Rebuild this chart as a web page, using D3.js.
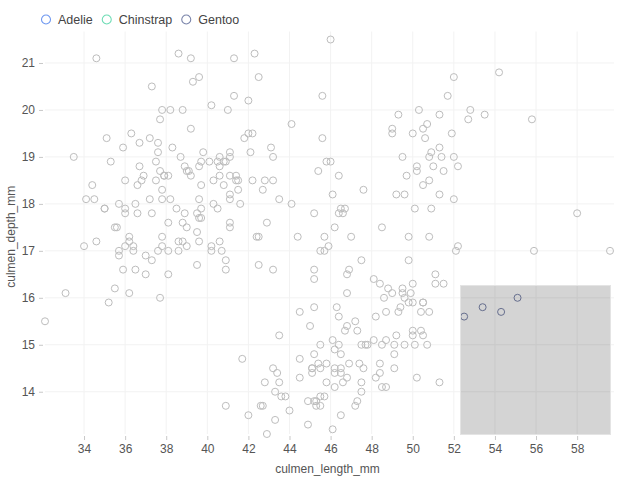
<!DOCTYPE html>
<html><head><meta charset="utf-8">
<script src="https://cdn.jsdelivr.net/npm/d3@7"></script>
<style>
body{margin:0;background:#fff;}
svg{font-family:"Liberation Sans",Helvetica,Arial,sans-serif;}
</style></head>
<body><svg id="c" width="640" height="480"></svg>
<script>
// [culmen_length_mm, culmen_depth_mm]
const adelie = [
[39.1,18.7],[39.5,17.4],[40.3,18.0],[36.7,19.3],[39.3,20.6],[38.9,17.8],[39.2,19.6],[34.1,18.1],[42.0,20.2],[37.8,17.1],
[37.8,17.3],[41.1,17.6],[38.6,21.2],[34.6,21.1],[36.6,17.8],[38.7,19.0],[42.5,20.7],[34.4,18.4],[46.0,21.5],[37.8,18.3],
[37.7,18.7],[35.9,19.2],[38.2,18.1],[38.8,17.2],[35.3,18.9],[40.6,18.6],[40.5,17.9],[37.9,18.6],[40.5,18.9],[39.5,16.7],
[37.2,18.1],[39.5,17.8],[40.9,18.9],[36.4,17.0],[39.2,21.1],[38.8,20.0],[42.2,18.5],[37.6,19.3],[39.8,19.1],[36.5,18.0],
[40.8,18.4],[36.0,18.5],[44.1,19.7],[37.0,16.9],[39.6,18.8],[41.1,19.0],[37.5,18.9],[36.0,17.9],[42.3,21.2],[39.6,17.7],
[40.1,18.9],[35.0,17.9],[42.0,19.5],[34.5,18.1],[41.4,18.6],[39.0,17.5],[40.6,18.8],[36.5,16.6],[37.6,19.1],[35.7,16.9],
[41.3,21.1],[37.6,17.0],[41.1,18.2],[36.4,17.1],[41.6,18.0],[35.5,16.2],[41.1,19.1],[35.9,16.6],[41.8,19.4],[33.5,19.0],
[39.7,18.4],[39.6,17.2],[45.8,18.9],[35.5,17.5],[42.8,18.5],[40.9,16.8],[37.2,19.4],[36.2,16.1],[42.1,19.1],[34.6,17.2],
[42.9,17.6],[36.7,18.8],[35.1,19.4],[37.3,17.8],[41.3,20.3],[36.3,19.5],[36.9,18.6],[38.3,19.2],[38.9,18.8],[35.7,18.0],
[41.1,18.1],[34.0,17.1],[39.6,18.1],[36.2,17.3],[40.8,18.9],[38.1,18.6],[40.3,18.5],[33.1,16.1],[43.2,18.5],[35.0,17.9],
[41.0,20.0],[37.7,16.0],[37.8,20.0],[37.9,18.6],[39.7,18.9],[38.6,17.2],[38.2,20.0],[38.1,17.0],[43.2,19.0],[38.1,16.5],
[45.6,20.3],[39.7,17.7],[42.2,19.5],[39.6,20.7],[42.7,18.3],[38.6,17.0],[37.3,20.5],[35.7,17.0],[41.1,18.6],[36.2,17.2],
[37.7,19.8],[40.2,17.0],[41.4,18.5],[35.2,15.9],[40.6,19.0],[38.8,17.6],[41.5,18.3],[39.0,17.1],[44.1,18.0],[38.5,17.9],
[43.1,19.2],[36.8,18.5],[37.5,18.5],[38.1,17.6],[41.1,17.5],[35.6,17.5],[40.2,20.1],[37.0,16.5],[39.7,17.9],[40.2,17.1],
[40.6,17.2],[32.1,15.5],[40.7,17.0],[37.3,16.8],[39.0,18.7],[39.2,18.6],[36.6,18.4],[36.0,17.8],[37.8,18.1],[36.0,17.1],
[41.5,18.5]
];
const chinstrap = [
[46.5,17.9],[50.0,19.5],[51.3,19.2],[45.4,18.7],[52.7,19.8],[45.2,17.8],[46.1,18.2],[51.3,18.2],[46.0,18.9],[51.3,19.9],
[46.6,17.8],[51.7,20.3],[47.0,17.3],[52.0,18.1],[45.9,17.1],[50.5,19.6],[50.3,20.0],[58.0,17.8],[46.4,18.6],[49.2,18.2],
[42.4,17.3],[48.5,17.5],[43.2,16.6],[50.6,19.4],[46.7,17.9],[52.0,19.0],[50.5,18.4],[49.5,19.0],[46.4,17.8],[52.8,20.0],
[40.9,16.6],[54.2,20.8],[42.5,16.7],[51.0,18.8],[49.7,18.6],[47.5,16.8],[47.6,18.3],[52.0,20.7],[46.9,16.6],[53.5,19.9],
[49.0,19.5],[46.2,17.5],[50.9,19.1],[45.5,17.0],[50.9,17.9],[50.8,18.5],[50.1,17.9],[49.0,19.6],[51.5,18.7],[49.8,17.3],
[48.1,16.4],[51.4,19.0],[45.7,17.3],[50.7,19.7],[42.5,17.3],[52.2,18.8],[45.2,16.6],[49.3,19.9],[50.2,18.8],[45.6,19.4],
[51.9,19.5],[46.8,16.5],[45.7,17.0],[55.8,19.8],[43.5,18.1],[49.6,18.2],[50.8,19.0],[50.2,18.7]
];
const gentoo = [
[46.1,13.2],[50.0,16.3],[48.7,14.1],[50.0,15.2],[47.6,14.5],[46.5,13.5],[45.4,14.6],[46.7,15.3],[43.3,13.4],[46.8,15.4],
[40.9,13.7],[49.0,16.1],[45.5,13.7],[48.4,14.6],[45.8,14.6],[49.3,15.7],[42.0,13.5],[49.2,15.2],[46.2,14.5],[48.7,15.1],
[50.2,14.3],[45.1,14.5],[46.5,14.5],[46.3,15.8],[42.9,13.1],[46.1,15.1],[44.5,14.3],[47.8,15.0],[48.2,14.3],[50.0,15.3],
[47.3,15.3],[42.8,14.2],[45.1,14.5],[59.6,17.0],[49.1,14.8],[48.4,16.3],[42.6,13.7],[44.4,17.3],[44.0,13.6],[48.7,15.7],
[42.7,13.7],[49.6,16.0],[45.3,13.7],[49.6,15.0],[50.5,15.9],[43.6,13.9],[45.5,13.9],[50.5,15.9],[44.9,13.3],[45.2,15.8],
[46.6,14.2],[48.5,14.1],[45.1,14.4],[50.1,15.0],[46.5,14.4],[45.0,15.4],[43.8,13.9],[45.5,15.0],[43.2,14.5],[50.4,15.3],
[45.3,13.8],[46.2,14.9],[45.7,13.9],[54.3,15.7],[45.8,14.2],[49.8,16.8],[46.2,14.4],[49.5,16.2],[43.5,14.2],[50.7,15.0],
[47.7,15.0],[46.4,15.6],[48.2,15.6],[46.5,14.8],[46.4,15.0],[48.6,16.0],[47.5,14.2],[51.1,16.3],[45.2,13.8],[45.2,16.4],
[49.1,14.5],[52.5,15.6],[47.4,14.6],[50.0,15.9],[44.9,13.8],[50.8,17.3],[43.4,14.4],[51.3,14.2],[47.5,14.0],[52.1,17.0],
[47.5,15.0],[52.2,17.1],[45.5,14.5],[49.5,16.1],[44.5,14.7],[50.8,15.7],[49.4,15.8],[46.9,14.6],[48.4,14.4],[51.1,16.5],
[48.5,15.0],[55.9,17.0],[47.2,15.5],[49.1,15.0],[47.3,13.8],[46.8,16.1],[41.7,14.7],[53.4,15.8],[43.3,14.0],[48.1,15.1],
[50.5,15.2],[49.8,15.9],[43.5,15.2],[51.5,16.3],[46.2,14.1],[55.1,16.0],[44.5,15.7],[48.8,16.2],[47.2,13.7],[46.8,14.3],
[50.4,15.7],[45.2,14.8],[49.9,16.1]
];
const species = ["Adelie","Chinstrap","Gentoo"];
const speciesColors = ["#6f98f0","#6edcb5","#7a84aa"];
const xTicks = [34,36,38,40,42,44,46,48,50,52,54,56,58];
const yTicks = [14,15,16,17,18,19,20,21];
const brushX = [52.3, 59.6];
const brushY = [13.1, 16.27];

const svg = d3.select("#c");
const L = 45, R = 610, T = 39.5, B = 434;
const all = [];
species.forEach((s,i)=>{
  const arr = [adelie,chinstrap,gentoo][i];
  arr.forEach(d=>all.push({s, x:d[0], y:d[1]}));
});
const x = d3.scaleLinear().domain(d3.extent(all,d=>d.x)).range([L,R]);
const y = d3.scaleLinear().domain(d3.extent(all,d=>d.y)).range([B,T]);
const color = d3.scaleOrdinal().domain(species).range(speciesColors);

// grid
svg.append("g").selectAll("line").data(xTicks).join("line")
  .attr("x1",d=>x(d)).attr("x2",d=>x(d)).attr("y1",T-8).attr("y2",B)
  .attr("stroke","#f2f2f2");
svg.append("g").selectAll("line").data(yTicks).join("line")
  .attr("x1",L).attr("x2",R+4).attr("y1",d=>y(d)).attr("y2",d=>y(d))
  .attr("stroke","#f2f2f2");

// axes
const xa = svg.append("g").attr("transform",`translate(0,${B+2})`)
  .call(d3.axisBottom(x).tickValues(xTicks).tickSize(4).tickPadding(4).tickFormat(d3.format("d")));
const ya = svg.append("g").attr("transform",`translate(${L-2},0)`)
  .call(d3.axisLeft(y).tickValues(yTicks).tickSize(4).tickPadding(4).tickFormat(d3.format("d")));
[xa,ya].forEach(a=>{
  a.select(".domain").remove();
  a.selectAll(".tick line").attr("stroke","#c8c8c8");
  a.selectAll(".tick text").attr("fill","#555").attr("font-size",12)
   .attr("font-family","'Liberation Sans',Helvetica,Arial,sans-serif");
});
svg.append("text").attr("x",(L+R)/2).attr("y",473).attr("text-anchor","middle")
  .attr("fill","#555").attr("font-size",12).text("culmen_length_mm");
svg.append("text").attr("transform",`translate(15,${(T+B)/2}) rotate(-90)`).attr("text-anchor","middle")
  .attr("fill","#555").attr("font-size",12).text("culmen_depth_mm");

// points
const inBrush = d => d.x>=brushX[0] && d.x<=brushX[1] && d.y>=brushY[0] && d.y<=brushY[1];
svg.append("g").selectAll("circle").data(all).join("circle")
  .attr("cx",d=>x(d.x)).attr("cy",d=>y(d.y)).attr("r",3.5)
  .attr("fill","none").attr("stroke-width",1)
  .attr("stroke",d=>inBrush(d)?color(d.s):"#bdbdbd");

// brush
const brush = d3.brush().extent([[L,T],[R,B]]);
const bg = svg.append("g").attr("class","brush").call(brush);
bg.call(brush.move,[[x(brushX[0]),y(brushY[1])],[x(brushX[1]),y(brushY[0])]]);
bg.select(".selection").attr("fill","#000").attr("fill-opacity",0.17).attr("stroke","#e4e4e4").attr("stroke-width",1);

// legend
const lg = svg.append("g");
let lx = 46;
species.forEach((s,i)=>{
  const g = lg.append("g").attr("transform",`translate(${lx},19.5)`);
  g.append("circle").attr("r",4.5).attr("fill","none").attr("stroke",color(s)).attr("stroke-width",1.1);
  const t = g.append("text").attr("x",12).attr("y",4.5).attr("font-size",12.5).attr("fill","#444").text(s);
  lx += 12 + t.node().getComputedTextLength() + 14;
});
</script></body></html>
